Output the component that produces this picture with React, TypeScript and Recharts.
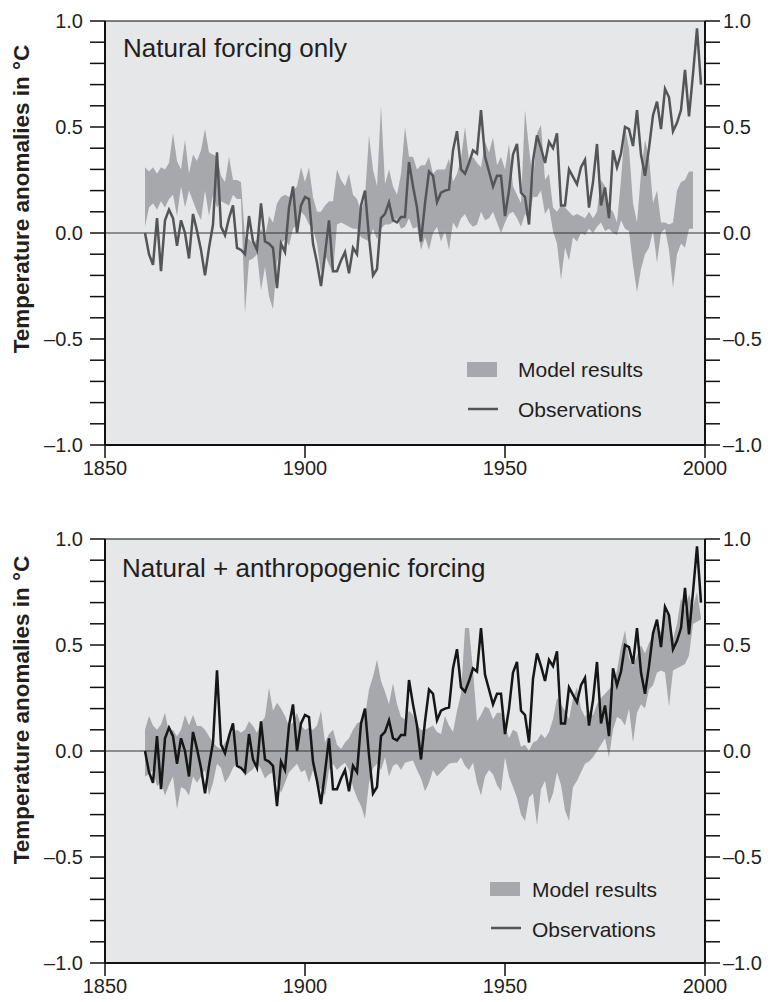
import { ComposedChart, Area, Line, XAxis, YAxis, CartesianGrid, ReferenceLine } from "recharts";

// annual values, 1860 to 1999
const firstYear = 1860;

const observations = [
  0.0, -0.1, -0.15, 0.07, -0.18, 0.06, 0.11, 0.07, -0.06, 0.06,
  0.0, -0.12, 0.09, 0.01, -0.08, -0.2, -0.07, 0.04, 0.38, 0.03,
  -0.01, 0.07, 0.13, -0.07, -0.08, -0.1, 0.08, -0.04, -0.08, 0.14,
  -0.04, -0.05, -0.07, -0.26, -0.05, -0.09, 0.12, 0.22, 0.0, 0.13,
  0.17, 0.16, -0.05, -0.14, -0.25, -0.1, 0.06, -0.18, -0.18, -0.13,
  -0.09, -0.19, -0.07, -0.1, 0.13, 0.2, -0.02, -0.2, -0.17, 0.07,
  0.09, 0.145, 0.06, 0.05, 0.075, 0.075, 0.335, 0.22, 0.12, -0.04,
  0.14, 0.29, 0.27, 0.145, 0.19, 0.2, 0.205, 0.39, 0.48, 0.3,
  0.28, 0.33, 0.39, 0.375, 0.58, 0.36, 0.29, 0.22, 0.27, 0.27,
  0.08, 0.2, 0.37, 0.42, 0.19, 0.17, 0.04, 0.34, 0.46, 0.4,
  0.33, 0.43, 0.4, 0.47, 0.13, 0.13, 0.3, 0.265, 0.23, 0.31,
  0.345, 0.12, 0.24, 0.42, 0.13, 0.215, 0.07, 0.39, 0.31, 0.375,
  0.5, 0.49, 0.41, 0.58, 0.37, 0.27, 0.4, 0.555, 0.62, 0.49,
  0.68, 0.64, 0.48, 0.52, 0.58, 0.77, 0.55, 0.75, 0.965, 0.7,
];

// model range, natural forcing only
const naturalLow = [
  0.03, 0.12, 0.14, 0.11, 0.15, 0.12, 0.16, 0.18, 0.08, 0.22,
  0.12, 0.2, 0.15, 0.1, 0.06, 0.2, 0.08, 0.18, 0.12, 0.15,
  0.14, 0.13, 0.18, 0.16, 0.16, -0.38, -0.13, -0.12, -0.1, -0.27,
  -0.16, -0.3, -0.36, -0.14, -0.05, -0.03, -0.06, 0.02, 0.04, 0.1,
  0.08, 0.04, 0.02, -0.05, -0.19, -0.1, -0.15, -0.19, 0.04, 0.05,
  0.04, 0.03, 0.02, 0.02, -0.02, -0.03, -0.04, 0.02, -0.03, 0.02,
  0.04, 0.04, 0.05, 0.07, 0.02, 0.03, 0.07, 0.02, 0.03, -0.08,
  -0.02, -0.08, 0.0, 0.03, -0.04, 0.01, -0.08, 0.05, 0.02, 0.07,
  0.09, 0.05, 0.03, 0.04, 0.1, 0.06, 0.07, 0.1, 0.05, 0.0,
  0.05, 0.09, 0.1, 0.07, 0.03, 0.09, 0.06, 0.17, 0.17, 0.2,
  0.09, 0.12, 0.01, -0.05, -0.22, -0.07, -0.13, -0.02, -0.04, 0.0,
  -0.01, 0.02, 0.0, 0.03, 0.05, 0.01, 0.02, 0.0, -0.01, 0.06,
  0.02, 0.01, -0.15, -0.28, -0.17, -0.1, -0.07, 0.01, -0.14, 0.0,
  0.02, -0.08, -0.26, -0.1, -0.05, -0.07, 0.02, 0.02, null, null,
];
const naturalHigh = [
  0.31, 0.29, 0.31, 0.28, 0.31, 0.3, 0.33, 0.47, 0.34, 0.3,
  0.44, 0.28, 0.37, 0.34, 0.39, 0.49, 0.38, 0.37, 0.36, 0.27,
  0.24, 0.36, 0.25, 0.25, 0.24, -0.02, -0.03, -0.05, -0.03, 0.02,
  -0.02, 0.08, 0.05, 0.14, 0.17, 0.18, 0.17, 0.2, 0.22, 0.31,
  0.24, 0.31, 0.17, 0.1, 0.1, 0.13, 0.15, 0.15, 0.3, 0.25,
  0.22, 0.28, 0.18, 0.16, 0.1, 0.17, 0.46, 0.3, 0.22, 0.6,
  0.23, 0.3, 0.22, 0.18, 0.28, 0.5, 0.36, 0.36, 0.3, 0.32,
  0.32, 0.36, 0.28, 0.3, 0.3, 0.3, 0.35, 0.24, 0.28, 0.35,
  0.5, 0.34, 0.36, 0.33, 0.31, 0.43, 0.38, 0.45, 0.32, 0.36,
  0.3, 0.42, 0.22, 0.18, 0.14, 0.58, 0.4, 0.24, 0.47, 0.51,
  0.25, 0.28, 0.12, 0.1, 0.13, 0.12, 0.1, 0.08, 0.09, 0.08,
  0.07, 0.1, 0.07, 0.1, 0.25, 0.22, 0.12, 0.1, 0.05, 0.25,
  0.5, 0.4, 0.14, 0.05, 0.28, 0.44, 0.36, 0.14, 0.2, 0.05,
  0.05, 0.04, 0.05, 0.2, 0.24, 0.25, 0.29, 0.29, null, null,
];

// model range, natural + anthropogenic forcing
const combinedLow = [
  -0.12, -0.11, -0.09, -0.165, -0.15, -0.21, -0.16, -0.12, -0.275, -0.17,
  -0.18, -0.21, -0.12, -0.15, -0.12, -0.09, -0.21, -0.15, -0.06, -0.08,
  -0.15, -0.12, -0.08, -0.055, -0.086, -0.118, -0.1, -0.086, -0.055, -0.086,
  -0.13, -0.11, -0.1, -0.15, -0.197, -0.15, -0.1, -0.08, -0.06, -0.1,
  -0.09, -0.15, -0.09, -0.16, -0.18, -0.21, -0.09, -0.06, -0.09, -0.07,
  -0.055, -0.09, -0.17, -0.22, -0.26, -0.32, -0.15, -0.08, -0.06, -0.09,
  -0.03, -0.12, -0.07, -0.06, -0.09, -0.055, -0.05, -0.045, -0.09, -0.13,
  -0.19, -0.15, -0.09, -0.12, -0.1, -0.08, -0.06, -0.055, -0.055, -0.03,
  -0.07, -0.09, -0.055, -0.15, -0.21, -0.12, -0.09, -0.11, -0.16, -0.19,
  -0.03, -0.12, -0.17, -0.22, -0.3, -0.33, -0.22, -0.2, -0.35, -0.18,
  -0.14, -0.25, -0.2, -0.1, -0.16, -0.28, -0.33, -0.17, -0.14, -0.1,
  -0.06, -0.05, -0.03, 0.0, 0.03, 0.06, -0.03, 0.1, 0.16, 0.15,
  0.12, 0.2, 0.04, 0.18, 0.22, 0.2, 0.29, 0.31, 0.37, 0.38,
  0.37, 0.21, 0.38, 0.39, 0.4, 0.41, 0.45, 0.6, 0.61, 0.62,
];
const combinedHigh = [
  0.1, 0.165, 0.12, 0.1, 0.125, 0.18, 0.086, 0.1, 0.07, 0.1,
  0.17, 0.12, 0.17, 0.118, 0.118, 0.1, 0.07, 0.04, 0.02, 0.008,
  0.04, 0.07, 0.09, 0.1, 0.086, 0.1, 0.14, 0.118, 0.086, 0.134,
  0.16, 0.3, 0.19, 0.228, 0.2, 0.165, 0.118, 0.134, 0.18, 0.12,
  0.1, 0.11, 0.1, 0.12, 0.19, 0.04, 0.08, 0.1, 0.03, 0.01,
  0.04, 0.06, 0.1, 0.13, 0.14, 0.165, 0.29, 0.35, 0.43, 0.33,
  0.28, 0.22, 0.32, 0.22, 0.16, 0.15, 0.19, 0.17, 0.12, 0.1,
  0.1, 0.11, 0.12, 0.09, 0.08, 0.165, 0.12, 0.09, 0.19, 0.27,
  0.58, 0.58, 0.38, 0.14, 0.17, 0.21, 0.2, 0.15, 0.18, 0.18,
  0.12, 0.06, 0.1, 0.09, 0.02, 0.03, 0.0, 0.04, 0.05, 0.08,
  0.06, 0.09, 0.15, 0.25, 0.22, 0.19, 0.15, 0.25, 0.3, 0.2,
  0.16, 0.19, 0.17, 0.22, 0.25, 0.27, 0.29, 0.31, 0.38, 0.49,
  0.57, 0.44, 0.4, 0.45, 0.5, 0.46, 0.51, 0.55, 0.59, 0.56,
  0.64, 0.66, 0.53, 0.6, 0.72, 0.66, 0.74, 0.68, 0.75, 0.63,
];

const yearTicks = [1850, 1900, 1950, 2000];
const tempTicks = [-1, -0.9, -0.8, -0.7, -0.6, -0.5, -0.4, -0.3, -0.2, -0.1, 0, 0.1, 0.2, 0.3, 0.4, 0.5, 0.6, 0.7, 0.8, 0.9, 1];

const rows = observations.map((obs, i) => ({
  year: firstYear + i,
  obs,
  natural: naturalLow[i] == null ? null : [naturalLow[i], naturalHigh[i]],
  combined: [combinedLow[i], combinedHigh[i]],
}));

const font = '"Liberation Sans", Arial, Helvetica, sans-serif';
const ink = "#231f20";
const bandColor = "#a7a8ab";
const labelSize = 20;

const fmt = (v: number) => {
  const r = Math.round(v * 10);
  if (r % 5 !== 0) return "";
  const s = Math.abs(v).toFixed(1);
  return v < -0.001 ? "\u2013" + s : s;
};

function TempTick(props: any) {
  const { x, y, payload, anchor } = props;
  return (
    <text x={x} y={y} dy="0.36em" textAnchor={anchor} fill={ink} fontSize={labelSize} fontFamily={font}>
      {fmt(payload.value)}
    </text>
  );
}

function Panel({ top, bandKey, lineColor }: { top: number; bandKey: string; lineColor: string }) {
  const axisLine = { stroke: "#111", strokeWidth: 2 };
  const tickLine = { stroke: "#111", strokeWidth: 1.5 };
  return (
    <div style={{ position: "absolute", left: 0, top }}>
      <ComposedChart width={771} height={500} data={rows} margin={{ top: 21, right: 0, bottom: 0, left: 0 }}>
        <CartesianGrid yAxisId="left" fill="#e6e7e9" stroke="none" horizontal={false} vertical={false} />
        <XAxis
          dataKey="year"
          type="number"
          domain={[1850, 2000]}
          ticks={yearTicks}
          interval={0}
          height={55}
          tickSize={13}
          tickMargin={3}
          tick={{ fill: ink, fontSize: labelSize, fontFamily: font }}
          axisLine={axisLine}
          tickLine={tickLine}
        />
        <YAxis
          yAxisId="left"
          domain={[-1, 1]}
          ticks={tempTicks}
          interval={0}
          width={105}
          tickSize={15}
          tickMargin={7}
          tick={(p: any) => <TempTick {...p} anchor="end" />}
          axisLine={axisLine}
          tickLine={tickLine}
        />
        <YAxis
          yAxisId="right"
          orientation="right"
          domain={[-1, 1]}
          ticks={tempTicks}
          interval={0}
          width={66}
          tickSize={15}
          tickMargin={3}
          tick={(p: any) => <TempTick {...p} anchor="start" />}
          axisLine={axisLine}
          tickLine={tickLine}
        />
        <ReferenceLine yAxisId="left" y={1} stroke="#555" strokeWidth={1.5} />
        <Area
          yAxisId="left"
          dataKey={bandKey}
          type="linear"
          fill={bandColor}
          fillOpacity={1}
          stroke="none"
          isAnimationActive={false}
        />
        <ReferenceLine yAxisId="left" y={0} stroke="#333" strokeWidth={1.2} />
        <Line
          yAxisId="right"
          dataKey="obs"
          type="linear"
          stroke={lineColor}
          strokeWidth={2.5}
          dot={false}
          isAnimationActive={false}
        />
      </ComposedChart>
    </div>
  );
}

function Overlay() {
  const yTitle = "Temperature anomalies in \u00b0C";
  return (
    <svg width={771} height={1002} style={{ position: "absolute", left: 0, top: 0, pointerEvents: "none" }}>
      <g fontFamily={font} fill={ink}>
        <text x={123} y={57} fontSize={26}>Natural forcing only</text>
        <text x={122} y={577} fontSize={26}>Natural + anthropogenic forcing</text>

        <text x={29} y={199} fontSize={22.5} fontWeight="bold" textAnchor="middle" transform="rotate(-90 29 199)">{yTitle}</text>
        <text x={29} y={710} fontSize={22.5} fontWeight="bold" textAnchor="middle" transform="rotate(-90 29 710)">{yTitle}</text>

        <rect x={467} y={362} width={30} height={15} fill={bandColor} />
        <text x={518} y={377} fontSize={21}>Model results</text>
        <line x1={468} x2={498} y1={409} y2={409} stroke="#555" strokeWidth={2.5} />
        <text x={518} y={417} fontSize={21}>Observations</text>

        <rect x={490} y={882} width={30} height={14} fill={bandColor} />
        <text x={532} y={897} fontSize={21}>Model results</text>
        <line x1={491} x2={521} y1={928} y2={928} stroke="#555" strokeWidth={2.5} />
        <text x={532} y={937} fontSize={21}>Observations</text>
      </g>
    </svg>
  );
}

export default function App() {
  return (
    <div style={{ position: "absolute", left: 0, top: 0, width: 771, height: 1002, background: "#fff" }}>
      <Panel top={0} bandKey="natural" lineColor="#555557" />
      <Panel top={518} bandKey="combined" lineColor="#161616" />
      <Overlay />
    </div>
  );
}
